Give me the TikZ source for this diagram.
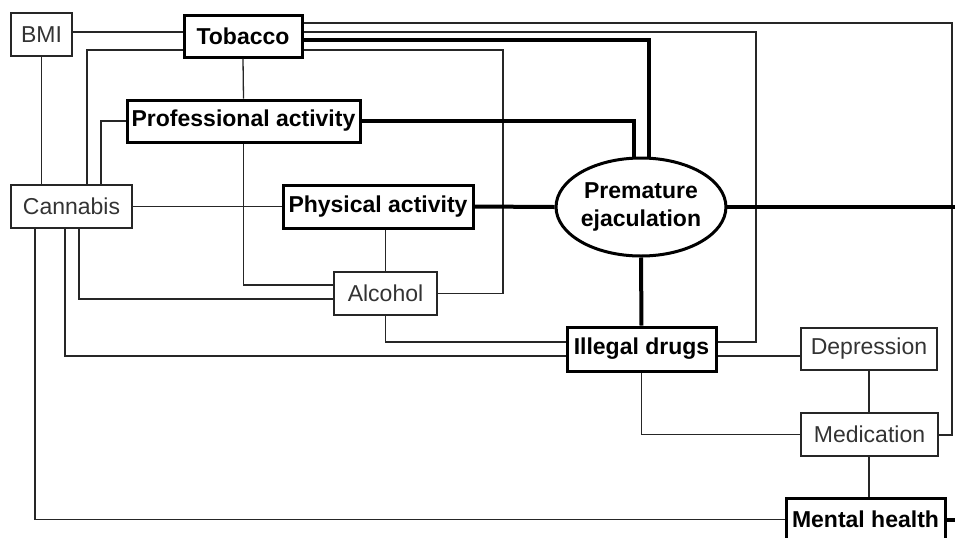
\documentclass[tikz,border=0pt]{standalone}
\usepackage{fontspec}
\setmainfont{Liberation Sans}
\usepackage{tikz}
\usetikzlibrary{shapes,positioning,calc}

\begin{document}
\begin{tikzpicture}[x=0.5pt, y=-0.5pt,
    every node/.style={font=\fontsize{11.5}{14}\selectfont, inner sep=0pt, align=center},
    plain/.style={draw=black!85, line width=0.7pt, text=black!80},
    bold/.style={draw=black, line width=1.5pt, font=\fontsize{11.5}{14}\selectfont\bfseries},
    link/.style={draw=black!85, line width=0.65pt},
    strong/.style={draw=black, line width=2pt}]
                        \useasboundingbox (0,0) rectangle (955,537);

                        \node[plain, minimum width=30.5pt, minimum height=21.5pt] (bmi) at (41.5, 34.5) {BMI};
                        \node[bold, minimum width=59pt, minimum height=21pt] (tob) at (243, 36) {Tobacco};
                        \node[bold, minimum width=116.5pt, minimum height=21pt] (prof) at (243.5, 121) {Professional activity};
                        \node[plain, minimum width=60.5pt, minimum height=21.5pt] (can) at (71.5, 206.5) {Cannabis};
                        \node[bold, minimum width=95pt, minimum height=21.5pt] (phys) at (378, 206.5) {Physical activity};
                        \node[bold, ellipse, minimum width=76pt, minimum height=49pt] (pe) at (641, 207) {Premature\\ejaculation};
                        \node[plain, minimum width=51.5pt, minimum height=21.5pt] (alc) at (385.5, 293.5) {Alcohol};
                        \node[bold, minimum width=74.5pt, minimum height=22pt] (ill) at (641.5, 349) {Illegal drugs};
                        \node[plain, minimum width=68pt, minimum height=21pt] (dep) at (869, 349) {Depression};
                        \node[plain, minimum width=68.5pt, minimum height=21.5pt] (med) at (869.5, 434.5) {Medication};
                        \node[bold, minimum width=79.5pt, minimum height=21.5pt] (ment) at (865.5, 519.5) {Mental health};
                        \coordinate (outR) at (958, 207);
                        \coordinate (outM) at (958, 519.5);

                        % thin links
                        \draw[link] (bmi.east |- 0,32) -- (tob.west |- 0,32);
                        \draw[link] (bmi.south) -- (bmi.south |- can.north);
                        \draw[link] (tob.west |- 0,50) -| (87,0 |- can.north);
                        \draw[link] (prof.west) -| (101,0 |- can.north);
                        \draw[link] (tob.south) -- (prof.north);
                        \draw[link] (prof.south) |- (alc.west |- 0,285);
                        \draw[link] (can.east) -- (phys.west);
                        \draw[link] (alc.north |- phys.south) -- (alc.north);
                        \draw[link] (79,0 |- can.south) |- (alc.west |- 0,299);
                        \draw[link] (alc.east) -| (503,50) -- (tob.east |- 0,50);
                        \draw[link] (alc.south) |- (ill.west |- 0,342);
                        \draw[link] (65,0 |- can.south) |- (ill.west |- 0,356);
                        \draw[link] (35,0 |- can.south) |- (ment.west);
                        \draw[link] (tob.east |- 0,32) -| (756,342) -- (ill.east |- 0,342);
                        \draw[link] (tob.east |- 0,23) -| (952,435) -- (med.east |- 0,435);
                        \draw[link] (ill.east |- 0,356) -- (dep.west |- 0,356);
                        \draw[link] (ill.south) |- (med.west);
                        \draw[link] (dep.south) -- (dep.south |- med.north);
                        \draw[link] (dep.south |- med.south) -- (dep.south |- ment.north);

                        % thick links
                        \draw[strong] (tob.east |- 0,40) -| (649,0 |- pe.north);
                        \draw[strong] (prof.east) -| (634,0 |- pe.north);
                        \draw[strong] (phys.east) -- (pe.west);
                        \draw[strong] (pe.east) -- (outR);
                        \draw[strong] (pe.south) -- (ill.north);
                        \draw[strong] (ment.east) -- (outM);
                    \end{tikzpicture}
\end{document}
